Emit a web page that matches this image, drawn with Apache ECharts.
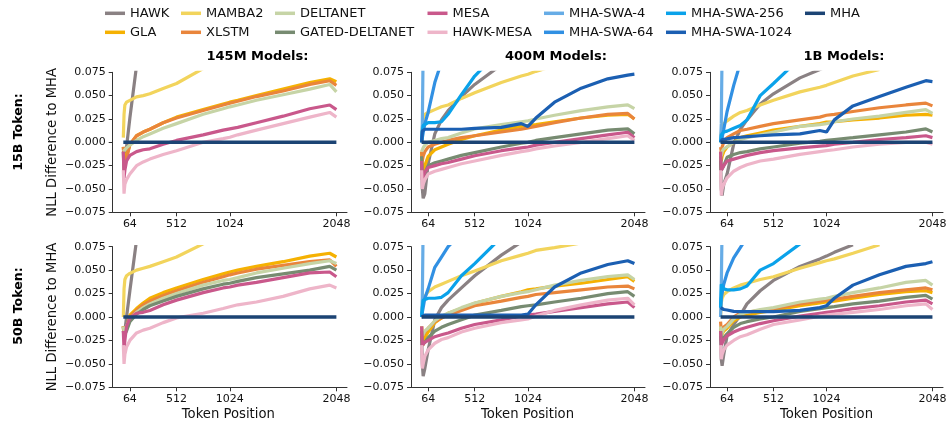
<!DOCTYPE html>
<html>
<head>
<meta charset="utf-8">
<script src="https://cdn.jsdelivr.net/npm/echarts@6/dist/echarts.min.js"></script>
<style>html,body{margin:0;padding:0;background:#fff}#c{width:950px;height:427px}</style>
</head>
<body>
<div id="c"></div>
<script>
// ---------------- DATA ----------------
const POSITIONS = [1, 8, 16, 32, 64, 128, 192, 256, 384, 512, 768, 960, 1024, 1100, 1280, 1536, 1792, 1984, 2048];
const X_TICKS = [64, 512, 1024, 2048];
const SERIES_NAMES = ["HAWK","GLA","MAMBA2","XLSTM","DELTANET","GATED-DELTANET","MESA","HAWK-MESA","MHA-SWA-4","MHA-SWA-64","MHA-SWA-256","MHA-SWA-1024","MHA"];
const MODEL_TITLES = ["145M Models:", "400M Models:", "1B Models:"];
const ROW_TITLES = ["15B Token:", "50B Token:"];

const M145_T15 = {
  "HAWK": [-0.01, -0.03, -0.03, -0.005, 0.026, 0.082],
  "GLA": [-0.005, -0.015, -0.02, -0.02, -0.003, 0.007, 0.011, 0.014, 0.021, 0.027, 0.035, 0.041, 0.043, 0.045, 0.050, 0.057, 0.064, 0.068, 0.065],
  "MAMBA2": [0.005, 0.03, 0.04, 0.043, 0.045, 0.0487, 0.050, 0.052, 0.0577, 0.063, 0.079, 0.088],
  "XLSTM": [-0.005, -0.018, -0.022, -0.018, -0.002, 0.007, 0.011, 0.014, 0.021, 0.026, 0.034, 0.040, 0.042, 0.044, 0.049, 0.055, 0.062, 0.066, 0.061],
  "DELTANET": [-0.01, -0.012, -0.01, -0.006, -0.003, 0.002, 0.006, 0.009, 0.015, 0.020, 0.030, 0.036, 0.038, 0.040, 0.045, 0.051, 0.057, 0.062, 0.054],
  "MESA": [-0.01, -0.038, -0.03, -0.02, -0.014, -0.010, -0.008, -0.007, -0.002, 0.002, 0.008, 0.013, 0.0144, 0.016, 0.021, 0.028, 0.036, 0.040, 0.035],
  "HAWK-MESA": [-0.03, -0.055, -0.045, -0.04, -0.034, -0.025, -0.021, -0.018, -0.013, -0.009, 0.000, 0.004, 0.0054, 0.008, 0.013, 0.020, 0.027, 0.032, 0.027],
  "MHA": [0, 0, 0, 0, 0, 0, 0, 0, 0, 0, 0, 0, 0, 0, 0, 0, 0, 0, 0]
};
const M400_T15 = {
  "HAWK": [-0.02, -0.05, -0.06, -0.055, -0.023, 0.009, 0.024, 0.034, 0.049, 0.062, 0.083],
  "GLA": [-0.01, -0.03, -0.035, -0.025, -0.015, -0.008, -0.005, -0.002, 0.003, 0.007, 0.013, 0.017, 0.018, 0.019, 0.022, 0.026, 0.029, 0.030, 0.025],
  "MAMBA2": [0.0, 0.015, 0.025, 0.03, 0.032, 0.035, 0.038, 0.040, 0.047, 0.053, 0.064, 0.071, 0.073, 0.076, 0.082],
  "XLSTM": [-0.01, -0.02, -0.015, -0.01, -0.005, -0.002, 0.000, 0.002, 0.005, 0.007, 0.011, 0.014, 0.0155, 0.017, 0.021, 0.026, 0.030, 0.031, 0.025],
  "DELTANET": [-0.01, -0.01, -0.006, -0.003, 0.000, 0.002, 0.004, 0.005, 0.010, 0.0144, 0.019, 0.022, 0.023, 0.025, 0.029, 0.034, 0.038, 0.040, 0.036],
  "GATED-DELTANET": [-0.015, -0.035, -0.038, -0.033, -0.025, -0.022, -0.020, -0.018, -0.014, -0.011, -0.005, -0.001, 0.000, 0.002, 0.005, 0.009, 0.013, 0.0144, 0.009],
  "MESA": [-0.02, -0.04, -0.038, -0.032, -0.027, -0.025, -0.023, -0.0216, -0.018, -0.0144, -0.009, -0.006, -0.005, -0.003, 0.000, 0.004, 0.008, 0.0108, 0.005],
  "HAWK-MESA": [-0.03, -0.05, -0.045, -0.04, -0.034, -0.031, -0.029, -0.027, -0.023, -0.020, -0.014, -0.010, -0.009, -0.007, -0.004, 0.000, 0.004, 0.007, 0.002],
  "MHA-SWA-4": [0.0, 0.02, 0.1],
  "MHA-SWA-64": [0.0, 0.005, 0.01, 0.02, 0.032, 0.064, 0.086],
  "MHA-SWA-256": [0.0, 0.012, 0.018, 0.02, 0.021, 0.021, 0.022, 0.03, 0.051, 0.071, 0.10],
  "MHA-SWA-1024": [0.0, 0.012, 0.014, 0.014, 0.014, 0.014, 0.014, 0.014, 0.014, 0.015, 0.016, 0.020, 0.017, 0.026, 0.043, 0.058, 0.068, 0.072, 0.073],
  "MHA": [0, 0, 0, 0, 0, 0, 0, 0, 0, 0, 0, 0, 0, 0, 0, 0, 0, 0, 0]
};
const M1B_T15 = {
  "HAWK": [-0.02, -0.05, -0.057, -0.045, -0.034, -0.002, 0.014, 0.024, 0.041, 0.052, 0.069, 0.078, 0.081],
  "GLA": [-0.01, -0.02, -0.015, -0.01, -0.005, 0.000, 0.005, 0.007, 0.010, 0.013, 0.017, 0.020, 0.0216, 0.022, 0.024, 0.026, 0.029, 0.030, 0.029],
  "MAMBA2": [0.0, 0.01, 0.015, 0.02, 0.023, 0.028, 0.032, 0.034, 0.040, 0.045, 0.054, 0.059, 0.061, 0.064, 0.071, 0.078],
  "XLSTM": [-0.005, -0.01, -0.005, 0.0, 0.005, 0.009, 0.0126, 0.014, 0.017, 0.020, 0.024, 0.027, 0.029, 0.030, 0.033, 0.037, 0.040, 0.042, 0.039],
  "DELTANET": [-0.01, -0.015, -0.01, -0.007, -0.005, 0.000, 0.003, 0.005, 0.008, 0.011, 0.017, 0.019, 0.020, 0.022, 0.025, 0.028, 0.032, 0.035, 0.031],
  "GATED-DELTANET": [-0.015, -0.03, -0.03, -0.025, -0.016, -0.013, -0.011, -0.010, -0.007, -0.005, -0.001, 0.001, 0.002, 0.003, 0.005, 0.008, 0.011, 0.0144, 0.011],
  "MESA": [-0.01, -0.03, -0.03, -0.025, -0.020, -0.018, -0.016, -0.014, -0.011, -0.009, -0.006, -0.004, -0.0036, -0.002, 0.000, 0.003, 0.005, 0.007, 0.005],
  "HAWK-MESA": [-0.03, -0.057, -0.05, -0.045, -0.038, -0.031, -0.027, -0.024, -0.020, -0.018, -0.013, -0.010, -0.009, -0.008, -0.005, -0.002, 0.000, 0.000, -0.002],
  "MHA-SWA-4": [0.0, 0.02, 0.1],
  "MHA-SWA-64": [0.0, 0.002, 0.005, 0.014, 0.033, 0.061, 0.085],
  "MHA-SWA-256": [0.0, 0.008, 0.01, 0.011, 0.012, 0.015, 0.018, 0.024, 0.050, 0.063, 0.09],
  "MHA-SWA-1024": [0.0, 0.002, 0.003, 0.003, 0.0036, 0.005, 0.0054, 0.006, 0.007, 0.008, 0.009, 0.0126, 0.011, 0.024, 0.039, 0.049, 0.059, 0.066, 0.065],
  "MHA": [0, 0, 0, 0, 0, 0, 0, 0, 0, 0, 0, 0, 0, 0, 0, 0, 0, 0, 0]
};
const M145_T50 = {
  "HAWK": [-0.01, -0.02, -0.015, 0.0, 0.028, 0.082],
  "GLA": [-0.01, -0.02, -0.02, -0.012, 0.002, 0.009, 0.015, 0.020, 0.026, 0.031, 0.040, 0.046, 0.048, 0.050, 0.054, 0.059, 0.065, 0.068, 0.064],
  "MAMBA2": [0.0, 0.03, 0.04, 0.044, 0.0466, 0.050, 0.052, 0.054, 0.059, 0.064, 0.078, 0.088],
  "XLSTM": [-0.01, -0.02, -0.02, -0.013, 0.000, 0.007, 0.013, 0.017, 0.023, 0.028, 0.037, 0.043, 0.045, 0.047, 0.051, 0.055, 0.059, 0.061, 0.054],
  "DELTANET": [-0.01, -0.015, -0.015, -0.01, -0.002, 0.005, 0.010, 0.014, 0.020, 0.025, 0.034, 0.039, 0.040, 0.042, 0.047, 0.052, 0.057, 0.060, 0.057],
  "GATED-DELTANET": [-0.015, -0.02, -0.02, -0.015, -0.005, 0.003, 0.008, 0.012, 0.017, 0.022, 0.030, 0.035, 0.036, 0.038, 0.042, 0.046, 0.050, 0.054, 0.050],
  "MESA": [-0.015, -0.035, -0.025, -0.01, -0.001, 0.004, 0.005, 0.007, 0.013, 0.018, 0.026, 0.031, 0.032, 0.034, 0.037, 0.042, 0.047, 0.048, 0.043],
  "HAWK-MESA": [-0.03, -0.05, -0.04, -0.032, -0.025, -0.017, -0.014, -0.012, -0.006, -0.001, 0.004, 0.009, 0.011, 0.013, 0.016, 0.022, 0.030, 0.034, 0.031],
  "MHA": [0, 0, 0, 0, 0, 0, 0, 0, 0, 0, 0, 0, 0, 0, 0, 0, 0, 0, 0]
};
const M400_T50 = {
  "HAWK": [-0.02, -0.05, -0.063, -0.055, -0.035, -0.003, 0.010, 0.018, 0.031, 0.044, 0.066, 0.080],
  "GLA": [-0.01, -0.025, -0.03, -0.022, -0.016, -0.006, -0.001, 0.004, 0.009, 0.0146, 0.022, 0.027, 0.029, 0.030, 0.033, 0.036, 0.040, 0.043, 0.038],
  "MAMBA2": [0.0, 0.01, 0.015, 0.022, 0.027, 0.032, 0.035, 0.038, 0.044, 0.049, 0.060, 0.066, 0.068, 0.071, 0.074, 0.079],
  "XLSTM": [-0.01, -0.02, -0.02, -0.016, -0.012, -0.005, -0.001, 0.002, 0.007, 0.012, 0.017, 0.021, 0.022, 0.024, 0.026, 0.029, 0.032, 0.033, 0.030],
  "DELTANET": [-0.01, -0.02, -0.02, -0.015, -0.012, -0.004, 0.001, 0.004, 0.010, 0.015, 0.022, 0.026, 0.027, 0.029, 0.034, 0.039, 0.043, 0.045, 0.040],
  "GATED-DELTANET": [-0.015, -0.03, -0.03, -0.027, -0.022, -0.015, -0.011, -0.008, -0.003, 0.002, 0.007, 0.011, 0.012, 0.013, 0.016, 0.020, 0.025, 0.027, 0.022],
  "MESA": [-0.01, -0.03, -0.03, -0.027, -0.025, -0.021, -0.019, -0.017, -0.012, -0.008, -0.003, 0.001, 0.002, 0.003, 0.006, 0.010, 0.014, 0.016, 0.010],
  "HAWK-MESA": [-0.03, -0.055, -0.05, -0.042, -0.035, -0.028, -0.024, -0.022, -0.016, -0.012, -0.006, -0.003, -0.002, 0.001, 0.007, 0.013, 0.018, 0.020, 0.013],
  "MHA-SWA-4": [0.0, 0.02, 0.1],
  "MHA-SWA-64": [0.0, 0.005, 0.01, 0.02, 0.03, 0.053, 0.064, 0.075, 0.09],
  "MHA-SWA-256": [0.0, 0.01, 0.018, 0.02, 0.02, 0.02, 0.021, 0.026, 0.044, 0.057, 0.085],
  "MHA-SWA-1024": [0.0, 0.002, 0.002, 0.002, 0.002, 0.002, 0.002, 0.002, 0.002, 0.002, 0.002, 0.002, 0.003, 0.013, 0.032, 0.047, 0.056, 0.060, 0.057],
  "MHA": [0, 0, 0, 0, 0, 0, 0, 0, 0, 0, 0, 0, 0, 0, 0, 0, 0, 0, 0]
};
const M1B_T50 = {
  "HAWK": [-0.02, -0.045, -0.052, -0.04, -0.02, -0.008, 0.002, 0.014, 0.028, 0.039, 0.054, 0.062, 0.065, 0.069, 0.077],
  "GLA": [-0.01, -0.02, -0.018, -0.015, -0.012, -0.004, 0.000, 0.002, 0.005, 0.007, 0.012, 0.015, 0.016, 0.017, 0.020, 0.024, 0.027, 0.028, 0.026],
  "MAMBA2": [0.0, 0.015, 0.02, 0.024, 0.027, 0.031, 0.034, 0.036, 0.040, 0.043, 0.052, 0.058, 0.060, 0.062, 0.068, 0.077],
  "XLSTM": [-0.005, -0.015, -0.012, -0.01, -0.008, 0.000, 0.004, 0.005, 0.007, 0.009, 0.014, 0.017, 0.018, 0.019, 0.022, 0.026, 0.029, 0.031, 0.029],
  "DELTANET": [-0.01, -0.02, -0.017, -0.013, -0.010, -0.002, 0.003, 0.005, 0.008, 0.010, 0.016, 0.019, 0.020, 0.022, 0.026, 0.031, 0.037, 0.039, 0.034],
  "GATED-DELTANET": [-0.015, -0.025, -0.025, -0.022, -0.018, -0.011, -0.007, -0.005, -0.002, 0.000, 0.006, 0.009, 0.010, 0.011, 0.014, 0.017, 0.021, 0.023, 0.019],
  "MESA": [-0.015, -0.03, -0.028, -0.024, -0.020, -0.016, -0.013, -0.011, -0.007, -0.004, 0.001, 0.004, 0.005, 0.006, 0.009, 0.012, 0.016, 0.018, 0.014],
  "HAWK-MESA": [-0.03, -0.045, -0.04, -0.035, -0.030, -0.025, -0.021, -0.019, -0.013, -0.008, -0.003, 0.001, 0.002, 0.003, 0.005, 0.008, 0.012, 0.014, 0.008],
  "MHA-SWA-4": [0.0, 0.03, 0.1],
  "MHA-SWA-64": [0.01, 0.02, 0.025, 0.035, 0.047, 0.063, 0.074, 0.085],
  "MHA-SWA-256": [0.01, 0.035, 0.035, 0.03, 0.029, 0.029, 0.030, 0.033, 0.050, 0.057, 0.078],
  "MHA-SWA-1024": [0.01, 0.008, 0.008, 0.008, 0.0075, 0.006, 0.0057, 0.0057, 0.0057, 0.0057, 0.007, 0.010, 0.012, 0.020, 0.034, 0.045, 0.054, 0.057, 0.059],
  "MHA": [0, 0, 0, 0, 0, 0, 0, 0, 0, 0, 0, 0, 0, 0, 0, 0, 0, 0, 0]
};
const PANELS = [M145_T15, M400_T15, M1B_T15, M145_T50, M400_T50, M1B_T50];

// ---------------- STYLE ----------------
const COLORS = {
  "HAWK": "#8a8183", "GLA": "#f5b102", "MAMBA2": "#f2d45c", "XLSTM": "#e9853b",
  "DELTANET": "#c6d4a6", "GATED-DELTANET": "#778b71", "MESA": "#c9588b", "HAWK-MESA": "#eeb5c9",
  "MHA-SWA-4": "#66ace6", "MHA-SWA-64": "#3190e3", "MHA-SWA-256": "#0aa2ea", "MHA-SWA-1024": "#1b5fb2", "MHA": "#1c4474"
};
const FONT = "DejaVu Sans";
const GRID_LEFT = [112.7, 411, 710];
const GRID_W = [234.3, 234, 233];
const GRID_TOP = [72.3, 246.7];
const GRID_H = [140, 140.6];

const grids = [], xAxes = [], yAxes = [], series = [];
for (let r = 0; r < 2; r++) {
  for (let c = 0; c < 3; c++) {
    const gi = r * 3 + c;
    grids.push({ left: GRID_LEFT[c], top: GRID_TOP[r], width: GRID_W[c], height: GRID_H[r], containLabel: false });
    xAxes.push({
      type: 'value', gridIndex: gi, min: -101, max: 2150, position: 'bottom',
      axisLine: { show: true, onZero: false, lineStyle: { color: '#333', width: 1 } },
      axisTick: { show: true, inside: false, length: 4, customValues: X_TICKS, lineStyle: { color: '#333' } },
      axisLabel: { customValues: X_TICKS, margin: 6, fontFamily: FONT, fontSize: 11, color: '#111', formatter: v => String(v) },
      splitLine: { show: false }
    });
    yAxes.push({
      type: 'value', gridIndex: gi, min: -0.075, max: 0.075, interval: 0.025, position: 'left',
      axisLine: { show: true, onZero: false, lineStyle: { color: '#333', width: 1 } },
      axisTick: { show: true, inside: false, length: 4, lineStyle: { color: '#333' } },
      axisLabel: {
        margin: 7, fontFamily: FONT, fontSize: 11, color: '#111',
        formatter: v => Math.abs(v) < 1e-9 ? '0.000' : (v < 0 ? '\u2212' : '') + Math.abs(v).toFixed(3)
      },
      splitLine: { show: false }
    });
    const panel = PANELS[gi];
    SERIES_NAMES.forEach(name => {
      const vals = panel[name];
      if (!vals) return;
      series.push({
        type: 'line', name: name, xAxisIndex: gi, yAxisIndex: gi,
        data: vals.map((v, i) => [POSITIONS[i], v]),
        showSymbol: false, symbol: 'none', clip: true, smooth: false,
        lineStyle: { color: COLORS[name], width: name === 'MHA' ? 3.4 : 3.2 },
        itemStyle: { color: COLORS[name] },
        emphasis: { disabled: true }
      });
    });
  }
}

const LEGEND_COLS = [
  { left: 105, names: ["HAWK", "GLA"] },
  { left: 181, names: ["MAMBA2", "XLSTM"] },
  { left: 275, names: ["DELTANET", "GATED-DELTANET"] },
  { left: 427.5, names: ["MESA", "HAWK-MESA"] },
  { left: 544, names: ["MHA-SWA-4", "MHA-SWA-64"] },
  { left: 666, names: ["MHA-SWA-256", "MHA-SWA-1024"] },
  { left: 805, names: ["MHA"] }
];
const legends = LEGEND_COLS.map(col => ({
  orient: 'vertical', left: col.left, top: 6.3, padding: 0, itemGap: 5,
  itemWidth: 20, itemHeight: 3.5, icon: 'rect', selectedMode: false,
  data: col.names,
  textStyle: { fontFamily: FONT, fontSize: 13, color: '#111', lineHeight: 14 }
}));

const graphics = [];
const TITLE_X = [257.5, 556, 844];
MODEL_TITLES.forEach((t, i) => graphics.push({
  type: 'text', x: TITLE_X[i], y: 56.7,
  style: { text: t, fontFamily: FONT, fontSize: 13, fontWeight: 'bold', fill: '#000', textAlign: 'center', textVerticalAlign: 'middle' }
}));
const ROW_Y = [132, 306];
ROW_TITLES.forEach((t, i) => graphics.push({
  type: 'text', x: 18.5, y: ROW_Y[i], rotation: Math.PI / 2,
  style: { text: t, fontFamily: FONT, fontSize: 12.6, fontWeight: 'bold', fill: '#000', textAlign: 'center', textVerticalAlign: 'middle' }
}));
const YLAB_Y = [142.3, 317];
YLAB_Y.forEach(y => graphics.push({
  type: 'text', x: 53, y: y, rotation: Math.PI / 2,
  style: { text: 'NLL Difference to MHA', fontFamily: FONT, fontSize: 13.2, fill: '#111', textAlign: 'center', textVerticalAlign: 'middle' }
}));
const XLAB_X = [228.3, 527.5, 826.5];
XLAB_X.forEach(x => graphics.push({
  type: 'text', x: x, y: 415,
  style: { text: 'Token Position', fontFamily: FONT, fontSize: 13.2, fill: '#111', textAlign: 'center', textVerticalAlign: 'middle' }
}));

const chart = echarts.init(document.getElementById('c'), null, { renderer: 'canvas' });
chart.setOption({
  animation: false,
  backgroundColor: '#fff',
  grid: grids, xAxis: xAxes, yAxis: yAxes, series: series,
  legend: legends, graphic: graphics
});
</script>
</body>
</html>
